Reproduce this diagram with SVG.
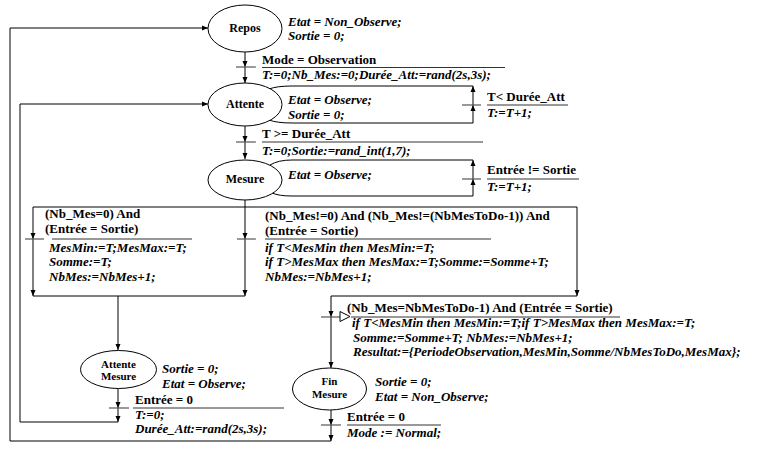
<svg xmlns="http://www.w3.org/2000/svg" width="757" height="450" viewBox="0 0 757 450">
<defs>
<marker id="arr" viewBox="0 0 6 6" refX="6" refY="3" markerWidth="6" markerHeight="6" markerUnits="userSpaceOnUse" orient="auto">
<path d="M0,0.5 L6,3 L0,5.5 z" fill="#000"/>
</marker>
<style>
.ln{fill:none;stroke:#000;stroke-width:1}
.ar{fill:none;stroke:#000;stroke-width:1;marker-end:url(#arr)}
.bar{fill:none;stroke:#555;stroke-width:1.2}
.ul{fill:none;stroke:#333;stroke-width:1}
.st{fill:#fff;stroke:#000;stroke-width:1}
.nm{font-family:"Liberation Serif","Times New Roman",serif;font-weight:bold;font-size:12px;text-anchor:middle;fill:#000}
.nm2{font-family:"Liberation Serif","Times New Roman",serif;font-weight:bold;font-size:11px;text-anchor:middle;fill:#000}
.b{font-family:"Liberation Serif","Times New Roman",serif;font-weight:bold;font-size:13px;fill:#000}
.bi{font-family:"Liberation Serif","Times New Roman",serif;font-weight:bold;font-style:italic;font-size:13px;fill:#000}
</style>
</defs>
<rect width="757" height="450" fill="#fff"/>

<g id="connectors">
<!-- Repos -> Attente -->
<path class="ar" d="M245,52 V67"/>
<path class="ar" d="M245,67 V83"/>
<!-- Attente -> Mesure -->
<path class="ar" d="M245,126 V142"/>
<path class="ar" d="M245,142 V159"/>
<!-- Attente self loop -->
<path class="ar" d="M269,120 Q277,123 292,123 H473 V105"/>
<path class="ar" d="M473,105 V86"/>
<path class="ln" d="M473,86 H292 Q277,86 269,89"/>
<!-- Mesure self loop -->
<path class="ar" d="M272,193 Q279,196 292,196 H473 V179"/>
<path class="ar" d="M473,179 V160"/>
<path class="ln" d="M473,160 H292 Q278,160 270,165"/>
<!-- Mesure branches -->
<path class="ar" d="M245,200 V239"/>
<path class="ar" d="M245,239 V296"/>
<path class="ar" d="M245,207 H33 V239"/>
<path class="ar" d="M33,239 V296"/>
<path class="ln" d="M33,296 H245"/>
<path class="ar" d="M118,296 V350"/>
<path class="ar" d="M245,207 H577 V296"/>
<path class="ar" d="M577,296 H331 V317"/>
<path class="ar" d="M331,317 V368"/>
<!-- Attente Mesure -> Attente -->
<path class="ar" d="M118,389 V408"/>
<path class="ar" d="M118,408 V422"/>
<path class="ar" d="M118,422 H20 V104 H208"/>
<!-- Fin Mesure -> Repos -->
<path class="ar" d="M331,410 V425"/>
<path class="ar" d="M331,425 V441"/>
<path class="ar" d="M331,441 H10 V28 H208"/>
</g>

<g id="repos">
<ellipse class="st" cx="245" cy="28.5" rx="37" ry="23.5"/>
<text class="nm" x="245" y="32">Repos</text>
<text class="bi" x="288" y="26">Etat = Non_Observe;</text>
<text class="bi" x="288" y="40">Sortie = 0;</text>
</g>

<g id="t-repos-attente">
<line class="bar" x1="236" y1="67" x2="256" y2="67"/>
<text class="b" x="262" y="64">Mode = Observation</text>
<line class="ul" x1="262" y1="67.5" x2="505" y2="67.5"/>
<text class="bi" x="262" y="79">T:=0;Nb_Mes:=0;Durée_Att:=rand(2s,3s);</text>
</g>

<g id="attente">
<ellipse class="st" cx="245" cy="104.5" rx="37" ry="21.5"/>
<text class="nm" x="245" y="108">Attente</text>
<text class="bi" x="288" y="104">Etat = Observe;</text>
<text class="bi" x="288" y="119">Sortie = 0;</text>
</g>

<g id="t-attente-loop">
<line class="bar" x1="462" y1="105" x2="481" y2="105"/>
<text class="b" x="487" y="101">T&lt; Durée_Att</text>
<line class="ul" x1="487" y1="105" x2="568" y2="105"/>
<text class="bi" x="487" y="117">T:=T+1;</text>
</g>

<g id="t-attente-mesure">
<line class="bar" x1="236" y1="142" x2="256" y2="142"/>
<text class="b" x="262" y="138">T &gt;= Durée_Att</text>
<line class="ul" x1="262" y1="142" x2="483" y2="142"/>
<text class="bi" x="262" y="155">T:=0;Sortie:=rand_int(1,7);</text>
</g>

<g id="mesure">
<ellipse class="st" cx="245" cy="180" rx="37" ry="20"/>
<text class="nm" x="245" y="183">Mesure</text>
<text class="bi" x="288" y="179">Etat = Observe;</text>
</g>

<g id="t-mesure-loop">
<line class="bar" x1="462" y1="179" x2="481" y2="179"/>
<text class="b" x="487" y="174">Entrée != Sortie</text>
<line class="ul" x1="487" y1="179" x2="579" y2="179"/>
<text class="bi" x="487" y="191">T:=T+1;</text>
</g>

<g id="t-first">
<line class="bar" x1="25" y1="239" x2="44" y2="239"/>
<text class="b" x="45" y="218">(Nb_Mes=0) And</text>
<text class="b" x="45" y="232.5">(Entrée = Sortie)</text>
<line class="ul" x1="52" y1="239" x2="192" y2="239"/>
<text class="bi" x="49" y="251.5">MesMin:=T;MesMax:=T;</text>
<text class="bi" x="49" y="266">Somme:=T;</text>
<text class="bi" x="49" y="280.5">NbMes:=NbMes+1;</text>
</g>

<g id="t-middle">
<line class="bar" x1="237" y1="239" x2="256" y2="239"/>
<text class="b" x="265" y="220">(Nb_Mes!=0) And (Nb_Mes!=(NbMesToDo-1)) And</text>
<text class="b" x="265" y="234.5">(Entrée = Sortie)</text>
<line class="ul" x1="265" y1="239" x2="491" y2="239"/>
<text class="bi" x="265" y="251.5">if T&lt;MesMin then MesMin:=T;</text>
<text class="bi" x="265" y="266">if T&gt;MesMax then MesMax:=T;Somme:=Somme+T;</text>
<text class="bi" x="265" y="280.5">NbMes:=NbMes+1;</text>
</g>

<g id="t-last">
<line class="bar" x1="321" y1="317" x2="341" y2="317"/>
<polygon points="340,311.5 350,316.5 340,321.5" fill="#fff" stroke="#000" stroke-width="1"/>
<text class="b" x="347" y="312">(Nb_Mes=NbMesToDo-1) And (Entrée = Sortie)</text>
<line class="ul" x1="351" y1="317" x2="620" y2="317"/>
<text class="bi" x="352" y="327">if T&lt;MesMin then MesMin:=T;if T&gt;MesMax then MesMax:=T;</text>
<text class="bi" x="353" y="341.5">Somme:=Somme+T; NbMes:=NbMes+1;</text>
<text class="bi" x="353" y="356">Resultat:={PeriodeObservation,MesMin,Somme/NbMesToDo,MesMax};</text>
</g>

<g id="attente-mesure">
<ellipse class="st" cx="118.5" cy="369.5" rx="38" ry="19"/>
<text class="nm2" x="118.5" y="367.5">Attente</text>
<text class="nm2" x="118.5" y="380">Mesure</text>
<text class="bi" x="162" y="373">Sortie = 0;</text>
<text class="bi" x="162" y="387.5">Etat = Observe;</text>
</g>

<g id="t-attente-mesure-attente">
<line class="bar" x1="109" y1="408" x2="129" y2="408"/>
<text class="b" x="135" y="404">Entrée = 0</text>
<line class="ul" x1="133" y1="408" x2="284" y2="408"/>
<text class="bi" x="135" y="418.5">T:=0;</text>
<text class="bi" x="135" y="433">Durée_Att:=rand(2s,3s);</text>
</g>

<g id="fin-mesure">
<ellipse class="st" cx="329.5" cy="389" rx="37" ry="21"/>
<text class="nm2" x="329.5" y="385">Fin</text>
<text class="nm2" x="329.5" y="397.5">Mesure</text>
<text class="bi" x="375" y="386">Sortie = 0;</text>
<text class="bi" x="375" y="400.5">Etat = Non_Observe;</text>
</g>

<g id="t-fin-repos">
<line class="bar" x1="321" y1="425" x2="341" y2="425"/>
<text class="b" x="347" y="421">Entrée = 0</text>
<line class="ul" x1="347" y1="425" x2="441" y2="425"/>
<text class="bi" x="347" y="437">Mode := Normal;</text>
</g>
</svg>
